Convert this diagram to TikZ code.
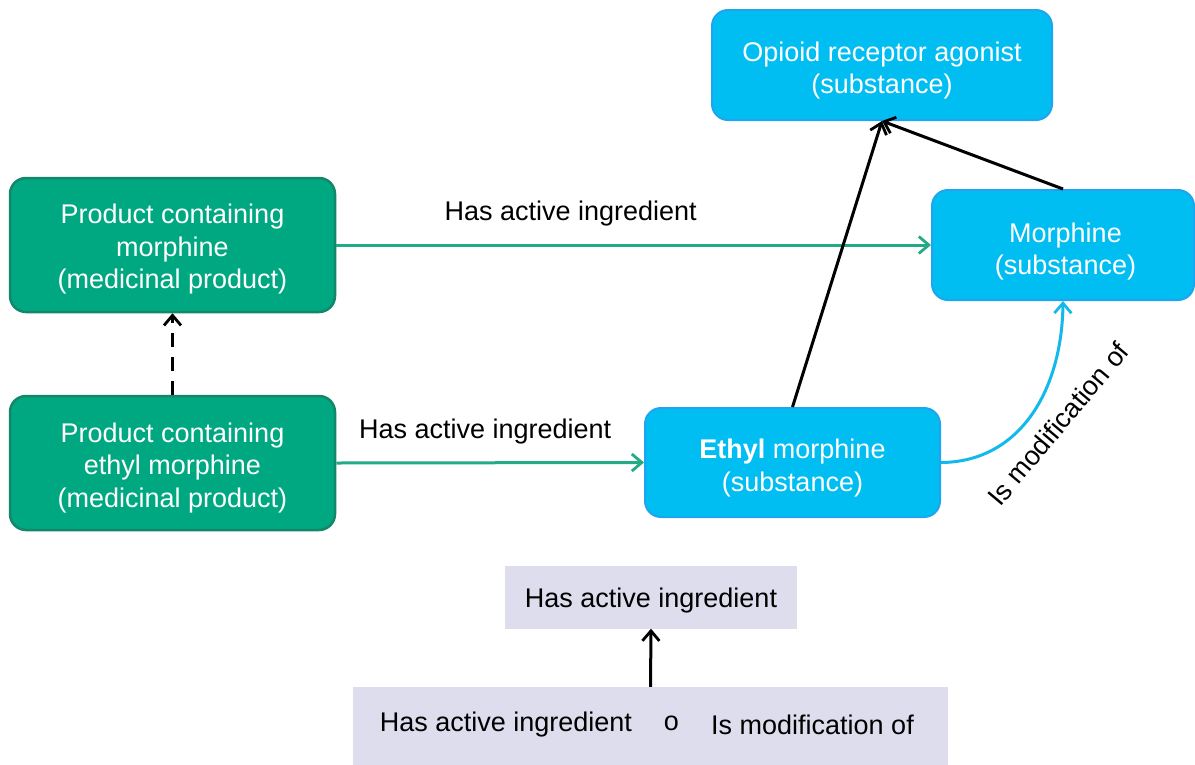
\documentclass[tikz,border=0pt]{standalone}
\usepackage{fontspec}
\setmainfont{Liberation Sans}
\usetikzlibrary{arrows.meta}
\definecolor{gfill}{RGB}{0,168,130}
\definecolor{gdraw}{RGB}{18,135,105}
\definecolor{bfill}{RGB}{0,190,242}
\definecolor{bdraw}{RGB}{30,165,240}
\definecolor{garrow}{RGB}{35,170,135}
\definecolor{bcurve}{RGB}{20,185,235}
\definecolor{lav}{RGB}{221,221,238}
\newcommand\mlt[2][5pt]{\raisebox{-#1}[\height][\depth]{\begin{tabular}{@{}c@{}}#2\end{tabular}}}
\begin{document}
\begin{tikzpicture}[x=1pt,y=-1pt,
  every node/.style={font=\fontsize{27}{32.5}\selectfont},
  gbox/.style={draw=gdraw,fill=gfill,line width=2.5pt,rounded corners=16pt,text=white,inner sep=0pt},
  bbox/.style={draw=bdraw,fill=bfill,line width=2pt,rounded corners=16pt,text=white,inner sep=0pt},
  lbox/.style={fill=lav,inner sep=0pt},
  tip/.style={-{Straight Barb[length=10pt,width=17pt,line width=2.8pt]}},
  garr/.style={tip,draw=garrow,line width=3pt},
  karr/.style={tip,draw=black,line width=3pt},
  lbl/.style={text=black}]
\useasboundingbox (0,0) rectangle (1195,764);
\node[gbox,minimum width=325pt,minimum height=134pt] (g1) at (172.5,245) {\mlt[4.5pt]{Product containing\\morphine\\(medicinal product)}};
\node[gbox,minimum width=325pt,minimum height=134pt] (g2) at (172.5,463) {\mlt[5pt]{Product containing\\ethyl morphine\\(medicinal product)}};
\node[bbox,minimum width=340pt,minimum height=110pt] (op) at (882,65) {\mlt[6pt]{Opioid receptor agonist\\(substance)}};
\node[bbox,minimum width=262pt,minimum height=110pt] (mor) at (1063,245) {\mlt[7pt]{\hspace*{5pt}Morphine\\\hspace*{5pt}(substance)}};
\node[bbox,minimum width=295pt,minimum height=109pt] (eth) at (792.5,462.5) {\mlt[6pt]{\textbf{Ethyl} morphine\\(substance)}};
\node[lbox,minimum width=292pt,minimum height=63pt] (b1) at (651,597) {\mlt[4pt]{Has active ingredient}};
\node[lbox,minimum width=595pt,minimum height=80pt] (b2) at (650.5,727) {};
\node[lbl] (t1) at (506,725) {Has active ingredient};
\node[lbl] (t2) at (671.5,723) {o};
\node[lbl] (t3) at (812.5,725) {Is modification of};
\draw[garr] (g1.east) -- node[lbl,above=14pt,xshift=-63pt] (l1) {Has active ingredient} (mor.west);
\draw[garr] (g2.east) -- node[lbl,above=14pt,xshift=-5pt] (l2) {Has active ingredient} (eth.west);
\draw[tip,draw=black,line width=3pt,dash pattern=on 14pt off 10pt] (g2.north) -- (g1.south);
\draw[karr] (eth.north) -- (op.south);
\draw[karr] (mor.north) -- (op.south);
\draw[tip,draw=bcurve,line width=3pt] (eth.east) .. controls (1020,462) and (1062,390) .. (mor.south);
\node[lbl,rotate=50] (l3) at (1058,424) {Is modification of};
\draw[karr] (b2.north) -- (b1.south);
\end{tikzpicture}
\end{document}
